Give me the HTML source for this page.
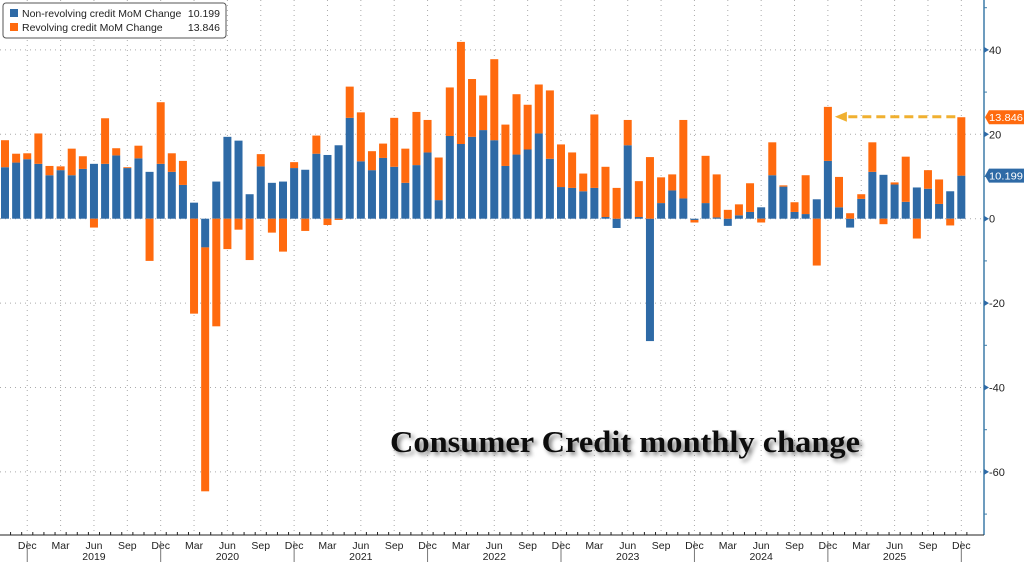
<!DOCTYPE html>
<html><head><meta charset="utf-8"><style>
html,body{margin:0;padding:0;background:#fff;width:1024px;height:562px;overflow:hidden}
svg{display:block;font-family:"Liberation Sans","DejaVu Sans",sans-serif}
</style></head><body>
<svg id="chart" width="1024" height="562" viewBox="0 0 1024 562" xmlns="http://www.w3.org/2000/svg">
<defs><filter id="sh" x="-5%" y="-20%" width="110%" height="160%"><feGaussianBlur in="SourceAlpha" stdDeviation="2"/><feOffset dx="3" dy="3"/><feComponentTransfer><feFuncA type="linear" slope="0.5"/></feComponentTransfer><feMerge><feMergeNode/><feMergeNode in="SourceGraphic"/></feMerge></filter></defs>
<g id="grid"></g>
<g id="bars"></g>
<g id="axes"></g>
<text x="390" y="452" font-family="Liberation Serif, serif" font-weight="bold" font-size="31" textLength="470" lengthAdjust="spacingAndGlyphs" fill="#111" filter="url(#sh)">Consumer Credit monthly change</text>
<g>
<rect x="3" y="3" width="223" height="35" rx="3" fill="#fff" stroke="#555" stroke-width="1"/>
<rect x="10" y="9" width="8" height="8" fill="#2e6aa6"/>
<text x="22" y="17" font-size="10.5" fill="#222">Non-revolving credit MoM Change</text>
<text x="220" y="17" font-size="10.5" fill="#222" text-anchor="end">10.199</text>
<rect x="10" y="23" width="8" height="8" fill="#ff6a0e"/>
<text x="22" y="31" font-size="10.5" fill="#222">Revolving credit MoM Change</text>
<text x="220" y="31" font-size="10.5" fill="#222" text-anchor="end">13.846</text>
</g>
</svg>
<script>
const months = ["Oct","Nov","Dec","Jan","Feb","Mar","Apr","May","Jun","Jul","Aug","Sep"];
const startYear = 2018, startMonth = 9; // Oct 2018
const nonRevolving = [12.2,13.3,14.1,13.0,10.3,11.5,10.3,11.8,13.0,13.0,15.0,12.0,14.3,11.1,13.0,11.1,8.0,3.8,-6.8,8.8,19.4,18.5,5.8,12.4,8.5,8.8,12.0,11.6,15.4,15.1,17.4,23.9,13.6,11.5,14.4,12.3,8.5,12.7,15.7,4.4,19.6,17.7,19.4,21.0,18.6,12.5,15.2,16.4,20.2,14.2,7.5,7.3,6.5,7.3,0.4,-2.2,17.4,0.4,-29.0,3.7,6.7,4.8,-0.3,3.7,0.3,-1.7,0.8,1.6,2.7,10.3,7.6,1.6,1.1,4.6,13.7,2.7,-2.1,4.7,11.1,10.4,8.1,4.0,7.4,7.1,3.5,6.5,10.199];
const revolving = [6.4,2.1,1.4,7.2,2.2,0.9,6.3,3.0,-2.1,10.8,1.7,0.2,3.0,-10.0,14.6,4.4,5.7,-22.5,-57.8,-25.5,-7.2,-2.6,-9.8,2.9,-3.3,-7.8,1.4,-2.9,4.3,-1.5,-0.3,7.4,11.6,4.5,3.4,11.6,8.1,12.6,7.7,10.1,11.5,24.2,13.7,8.2,19.2,9.8,14.3,10.6,11.6,16.2,10.1,8.4,4.2,17.4,11.9,7.3,6.0,8.5,14.6,6.1,3.8,18.6,-0.6,11.2,10.2,2.1,2.6,6.8,-0.9,7.8,0.3,2.3,9.2,-11.1,12.8,7.2,1.3,1.1,7.0,-1.3,0.5,10.7,-4.7,4.4,5.8,-1.6,13.846];
const yTicks = [40,20,0,-20,-40,-60];
const lastNonRev = "10.199", lastRev = "13.846";

const NS="http://www.w3.org/2000/svg";
const X0=5, DX=11.12, BW=8;
const xPos = i => X0 + i*DX;
const yPos = v => 218.7 - v*4.22;
const AX=984, BOT=535;
function mk(tag, attrs, parent){const e=document.createElementNS(NS,tag);for(const k in attrs)e.setAttribute(k,attrs[k]);parent.appendChild(e);return e;}
const grid=document.getElementById('grid'), bars=document.getElementById('bars'), axes=document.getElementById('axes');

yTicks.forEach(t=>{
  const l=mk('line',{x1:0,x2:AX,y1:yPos(t),y2:yPos(t),stroke:'#aaa','stroke-dasharray':'1,4','stroke-width':1},grid);
  
  
});
for(let i=0;i<nonRevolving.length;i++){
  const m=(startMonth+i)%12;
  if(m%3===2){
    const l=mk('line',{x1:xPos(i),x2:xPos(i),y1:0,y2:BOT,stroke:'#aaa','stroke-dasharray':'1,4','stroke-width':1},grid);
    
    
  }
}
for(let i=0;i<nonRevolving.length;i++){
  const b=nonRevolving[i], r=revolving[i];
  let pos=0, neg=0;
  const cx=xPos(i)-BW/2;
  let y0,y1;
  if(b>=0){y0=0;y1=b;pos=b;}else{y0=b;y1=0;neg=b;}
  const rb=mk('rect',{x:cx,y:yPos(y1),width:BW,height:Math.max(0.5,yPos(y0)-yPos(y1)),fill:'#2e6aa6'},bars);
  
  
  if(r>=0){y0=pos;y1=pos+r;}else{y0=neg+r;y1=neg;}
  const ro=mk('rect',{x:cx,y:yPos(y1),width:BW,height:Math.max(0.5,yPos(y0)-yPos(y1)),fill:'#ff6a0e'},bars);
  
  
}
mk('line',{x1:AX,x2:AX,y1:0,y2:BOT,stroke:'#3d7ca8','stroke-width':1.5},axes);
yTicks.forEach(t=>{
  const y=yPos(t);
  mk('path',{d:`M${AX} ${y-3}L${AX+5} ${y}L${AX} ${y+3}Z`,fill:'#2e6aa6'},axes);
  const tx=mk('text',{x:AX+5,y:y+4,'font-size':11,fill:'#222'},axes);
  tx.textContent=String(t);
  
  
});
for(let v=50;v>=-70;v-=20){mk('line',{x1:AX,x2:AX+3,y1:yPos(v),y2:yPos(v),stroke:'#3d7ca8'},axes);}
mk('line',{x1:0,x2:AX,y1:BOT,y2:BOT,stroke:'#222','stroke-width':1},axes);
for(let i=0;i<nonRevolving.length;i++){
  const x=xPos(i)+DX/2;
  mk('line',{x1:x,x2:x,y1:BOT-3,y2:BOT,stroke:'#222'},axes);
  const m=(startMonth+i)%12, yr=startYear+Math.floor((startMonth+i)/12);
  if(m%3===2){
    const t=mk('text',{x:xPos(i),y:549,'font-size':10.5,fill:'#222','text-anchor':'middle'},axes);
    t.textContent=months[(m+3)%12];
    
    
  }
  if(m===11){mk('line',{x1:xPos(i),x2:xPos(i),y1:541,y2:562,stroke:'#777'},axes);}
  if(m===5){
    const t=mk('text',{x:xPos(i),y:560,'font-size':10.5,fill:'#222','text-anchor':'middle'},axes);
    t.textContent=yr;
    
    
  }
}
function tag(val,label,color){
  const y=yPos(val);
  const g=mk('g',{},axes);
  
  
  mk('path',{d:`M${AX+1} ${y}L${AX+5} ${y-7}H1024V${y+7}H${AX+5}Z`,fill:color},g);
  const t=mk('text',{x:AX+5,y:y+4,'font-size':10.5,fill:'#fff',textLength:34,lengthAdjust:'spacingAndGlyphs'},g);
  t.textContent=label;
}
const N=nonRevolving.length;
const topLast=nonRevolving[N-1]+revolving[N-1];
tag(topLast,lastRev,'#ff6a0e');
tag(nonRevolving[N-1],lastNonRev,'#2e6aa6');
const peakIdx=74;
const ay=yPos(topLast)-0.5;
const arr=mk('g',{},axes);


mk('line',{x1:xPos(N-1)-6,x2:xPos(peakIdx)+18,y1:ay,y2:ay,stroke:'#f0b030','stroke-width':3,'stroke-dasharray':'9,5'},arr);
mk('path',{d:`M${xPos(peakIdx)+7} ${ay}L${xPos(peakIdx)+19} ${ay-5}V${ay+5}Z`,fill:'#f0b030'},arr);
</script>
</body></html>
